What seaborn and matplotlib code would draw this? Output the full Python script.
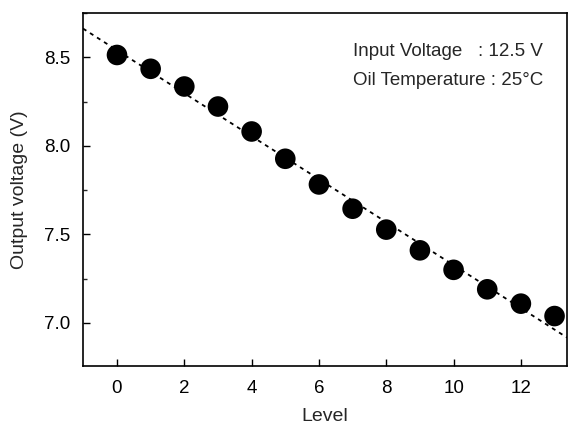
import numpy as np
import pandas as pd
import matplotlib
matplotlib.use('Agg')
import matplotlib.pyplot as plt
import seaborn as sns
from matplotlib.ticker import MultipleLocator

# data
level = [0, 1, 2, 3, 4, 5, 6, 7, 8, 9, 10, 11, 12, 13]
output_voltage = [8.513, 8.435, 8.335, 8.222, 8.081, 7.927, 7.782,
                  7.645, 7.527, 7.41, 7.30, 7.19, 7.109, 7.039]
x_ticks = [0, 2, 4, 6, 8, 10, 12]
y_ticks = [7.0, 7.5, 8.0, 8.5]

df = pd.DataFrame({'Level': level, 'Output': output_voltage})

sns.set_style('ticks')
plt.rcParams['font.family'] = ['Liberation Sans', 'DejaVu Sans']

fig = plt.figure(figsize=(5.68, 4.26), dpi=100)
ax = fig.add_axes([83 / 568, (426 - 366) / 426, 484 / 568, 353 / 426])

# limits first so that the fit line spans the whole axes
ax.set_xlim(-1.01, 13.37)
ax.set_ylim(6.757, 8.75)

sns.regplot(data=df, x='Level', y='Output', ax=ax, ci=None, truncate=False,
            scatter_kws=dict(s=220, color='black', edgecolor='none', alpha=1),
            line_kws=dict(color='black', linewidth=1.3, linestyle=(0, (2.2, 2.4))))

ax.set_xticks(x_ticks)
ax.set_yticks(y_ticks)
ax.yaxis.set_minor_locator(MultipleLocator(0.25))
ax.tick_params(axis='both', which='major', direction='in', length=5, width=1,
               labelsize=13.5, colors='black')
ax.tick_params(axis='x', which='major', pad=10)
ax.tick_params(axis='y', which='major', pad=9)
ax.tick_params(axis='y', which='minor', direction='in', length=3, width=1)
ax.set_yticklabels([f'{v:.1f}' for v in y_ticks])

for side in ['top', 'right', 'left', 'bottom']:
    ax.spines[side].set_visible(True)
    ax.spines[side].set_linewidth(1.2)
    ax.spines[side].set_color('black')

ax.set_xlabel('Level', fontsize=14, labelpad=8)
ax.set_ylabel('Output voltage (V)', fontsize=14, labelpad=12)

ax.text(0.558, 0.892, 'Input Voltage   : 12.5 V', transform=ax.transAxes,
        fontsize=13.5, va='center', ha='left')
ax.text(0.558, 0.808, 'Oil Temperature : 25°C', transform=ax.transAxes,
        fontsize=13.5, va='center', ha='left')

fig.savefig('out.png', dpi=100)
